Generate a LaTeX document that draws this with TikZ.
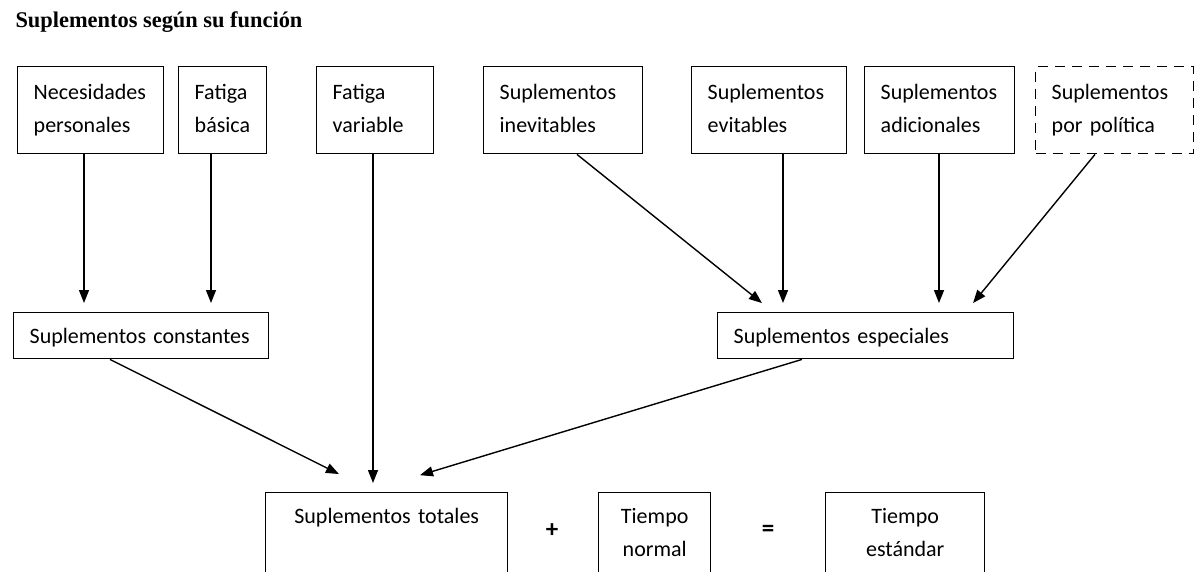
\documentclass[tikz,border=0pt]{standalone}
\usepackage{fontspec}
\setmainfont{Carlito}
\newfontfamily\titlefont{Liberation Serif}
\newcommand\boxtextfont{\fontsize{22}{33}\selectfont\spaceskip=2.5pt plus 1pt\relax}
\usetikzlibrary{arrows.meta,calc}
\begin{document}
\begin{tikzpicture}[x=1pt,y=-1pt,
  every node/.style={font=\boxtextfont},
  box/.style={draw, line width=1.4pt, inner xsep=16pt, inner ysep=8pt, align=left, anchor=north west, text height=25pt},
  topbox/.style={box, text depth=46pt},
  midbox/.style={box, text height=23pt, text depth=7pt},
  botbox/.style={draw, line width=1.4pt, inner xsep=8pt, inner ysep=8pt, align=center, anchor=north west, text height=23pt, text depth=120pt},
  arr/.style={line width=1.4pt, -{Triangle[length=13pt,width=10pt]}},
  sign/.style={font=\fontsize{25}{33}\selectfont\bfseries}
]
\useasboundingbox (0,0) rectangle (1201,571);
\fill[white] (0,0) rectangle (1201,571);
\clip (0,0) rectangle (1201,571);

\node[anchor=base west, font=\titlefont\fontsize{22.4}{26}\selectfont\bfseries] (title) at (12,27) {Suplementos según su función};

% top row
\node[topbox, text width=114pt] (nec) at (17,66) {Necesidades\\personales};
\node[topbox, text width=56pt] (fb) at (178,66) {Fatiga\\básica};
\node[topbox, text width=85pt] (fv) at (316,66) {Fatiga\\variable};
\node[topbox, text width=127pt] (inev) at (483,66) {Suplementos\\inevitables};
\node[topbox, text width=123pt] (evit) at (691,66) {Suplementos\\evitables};
\node[topbox, text width=118pt] (adic) at (864,66) {Suplementos\\adicionales};
\node[topbox, text width=126pt, dash pattern=on 10pt off 7pt] (pol) at (1035,66) {Suplementos\\por política};

% middle row
\node[midbox, text width=223pt] (const) at (13,312) {Suplementos constantes};
\node[midbox, text width=264pt] (esp) at (717,312) {Suplementos especiales};

% bottom row
\node[botbox, text width=226pt] (tot) at (265,492) {Suplementos totales};
\node[sign] (plus) at (552,531) {+};
\node[botbox, text width=96pt] (tn) at (598,492) {Tiempo\\normal};
\node[sign] (eq) at (768,531) {=};
\node[botbox, text width=143pt] (te) at (825,492) {Tiempo\\estándar};

% arrows
\draw[arr, shorten >=9pt] (nec.south -| 84,0) -- (const.north -| 84,0);
\draw[arr, shorten >=9pt] (fb.south -| 211,0) -- (const.north -| 211,0);
\draw[arr, shorten >=9pt] (fv.south -| 373,0) -- (tot.north -| 373,0);
\draw[arr, shorten >=14.3pt] (inev.south -| 577,0) -- (esp.north -| 773.1,0);
\draw[arr, shorten >=9pt] (evit.south -| 783,0) -- (esp.north -| 783,0);
\draw[arr, shorten >=9pt] (adic.south -| 939,0) -- (esp.north -| 939,0);
\draw[arr, shorten >=11.6pt] (pol.south -| 1095,0) -- (esp.north -| 965.7,0);
\draw[arr, shorten >=40.1pt] (const.south -| 110,0) -- (tot.north -| 374.8,0);
\draw[arr, shorten >=58pt] (esp.south -| 802,0) -- (tot.north -| 364.5,0);
\end{tikzpicture}
\end{document}
